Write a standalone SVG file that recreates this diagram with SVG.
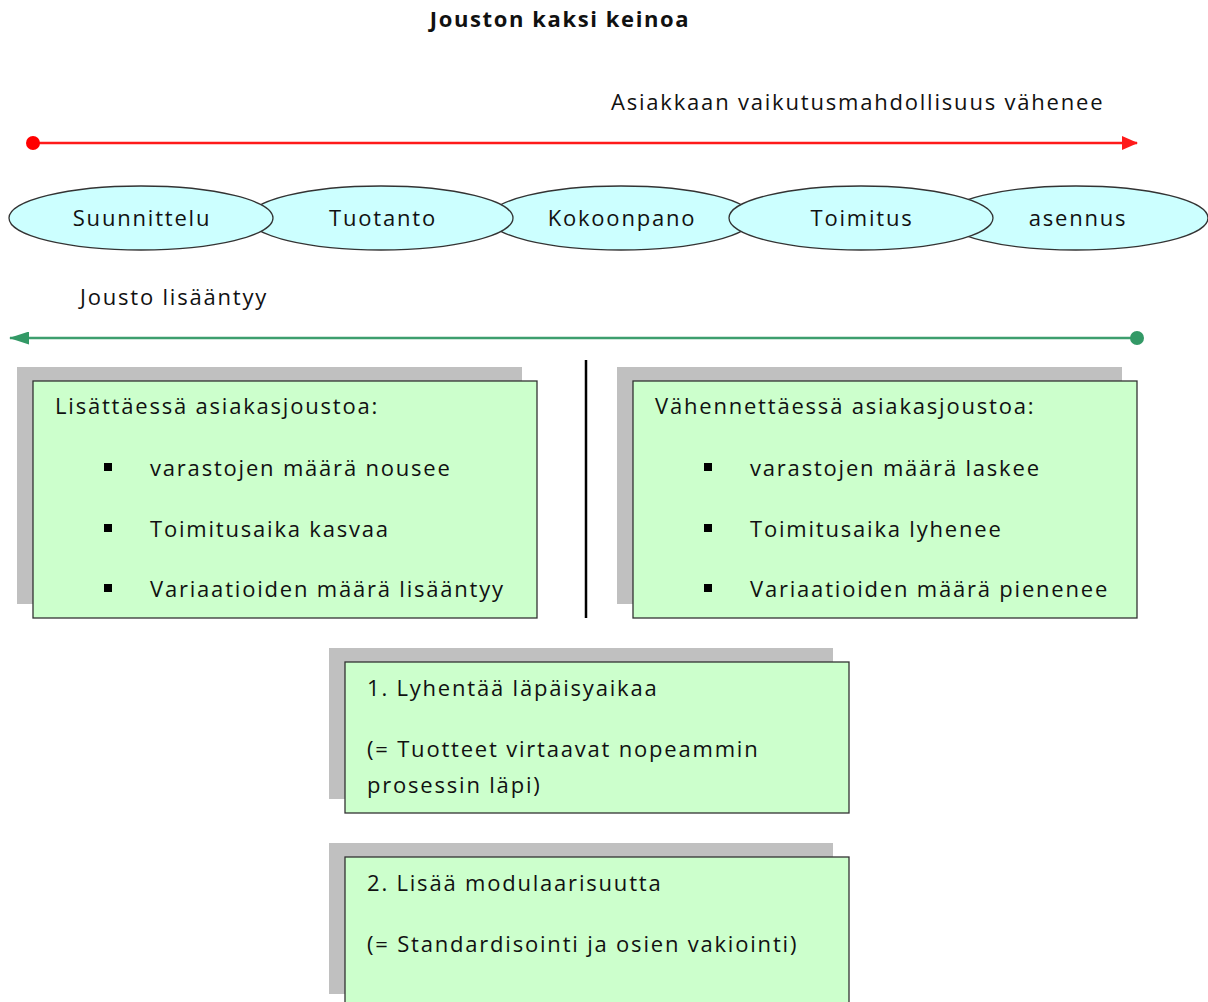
<svg xmlns="http://www.w3.org/2000/svg" width="1208" height="1002" viewBox="0 0 1208 1002">
<style>
text{font-family:"Open Sans","Noto Sans","Liberation Sans",sans-serif;font-size:22px;letter-spacing:1.8px;fill:#111}
.title{font-weight:bold;font-size:22px;letter-spacing:1.6px}
.ell{fill:#ccffff;stroke:#333;stroke-width:1.3}
.shadow{fill:#c0c0c0}
.box{fill:#ccffcc;stroke:#333;stroke-width:1.3}
.mid{text-anchor:middle}
.bul{fill:#000}
</style>
<defs>
<marker id="redHead" markerWidth="16" markerHeight="14" refX="15" refY="7" orient="auto" markerUnits="userSpaceOnUse" viewBox="0 0 16 14">
<path d="M0,0 L16,7 L0,14 z" fill="#ff1a1a"/>
</marker>
<marker id="greenHead" markerWidth="20" markerHeight="13" refX="19" refY="6.5" orient="auto" markerUnits="userSpaceOnUse" viewBox="0 0 20 13">
<path d="M0,0 L20,6.5 L0,13 z" fill="#339966"/>
</marker>
</defs>
<rect width="1208" height="1002" fill="#fff"/>
<text class="title mid" x="560" y="27">Jouston kaksi keinoa</text>
<text x="611" y="110">Asiakkaan vaikutusmahdollisuus vähenee</text>
<text x="80" y="305">Jousto lisääntyy</text>
<g id="connectors">
<line x1="33" y1="143" x2="1137" y2="143" stroke="#ff1a1a" stroke-width="2.5" marker-end="url(#redHead)"/>
<circle cx="33" cy="143" r="7" fill="#ff0000"/>
<line x1="1137" y1="338" x2="10" y2="338" stroke="#3d9e6e" stroke-width="2.5" marker-end="url(#greenHead)"/>
<circle cx="1137" cy="338" r="7" fill="#339966"/>
<line x1="586" y1="360" x2="586" y2="618" stroke="#000" stroke-width="2.5"/>
</g>
<g id="asennus"><ellipse class="ell" cx="1076" cy="218" rx="132" ry="32"/><text class="mid" x="1078" y="226">asennus</text></g>
<g id="kokoonpano"><ellipse class="ell" cx="621" cy="218" rx="132" ry="32"/><text class="mid" x="622" y="226">Kokoonpano</text></g>
<g id="tuotanto"><ellipse class="ell" cx="381" cy="218" rx="132" ry="32"/><text class="mid" x="383" y="226">Tuotanto</text></g>
<g id="toimitus"><ellipse class="ell" cx="861" cy="218" rx="132" ry="32"/><text class="mid" x="862" y="226">Toimitus</text></g>
<g id="suunnittelu"><ellipse class="ell" cx="141" cy="218" rx="132" ry="32"/><text class="mid" x="142" y="226">Suunnittelu</text></g>
<g id="lisattaessa">
<rect class="shadow" x="17" y="367" width="505" height="237"/>
<rect class="box" x="33" y="381" width="504" height="237"/>
<text x="55" y="414">Lisättäessä asiakasjoustoa:</text>
<rect class="bul" x="104" y="463" width="8" height="8"/><text x="150" y="476">varastojen määrä nousee</text>
<rect class="bul" x="104" y="524" width="8" height="8"/><text x="150" y="537">Toimitusaika kasvaa</text>
<rect class="bul" x="104" y="584" width="8" height="8"/><text x="150" y="597">Variaatioiden määrä lisääntyy</text>
</g>
<g id="vahennettaessa">
<rect class="shadow" x="617" y="367" width="505" height="237"/>
<rect class="box" x="633" y="381" width="504" height="237"/>
<text x="655" y="414">Vähennettäessä asiakasjoustoa:</text>
<rect class="bul" x="704" y="463" width="8" height="8"/><text x="750" y="476">varastojen määrä laskee</text>
<rect class="bul" x="704" y="524" width="8" height="8"/><text x="750" y="537">Toimitusaika lyhenee</text>
<rect class="bul" x="704" y="584" width="8" height="8"/><text x="750" y="597">Variaatioiden määrä pienenee</text>
</g>
<g id="keino1">
<rect class="shadow" x="329" y="648" width="504" height="151"/>
<rect class="box" x="345" y="662" width="504" height="151"/>
<text x="367" y="696">1. Lyhentää läpäisyaikaa</text>
<text x="367" y="757">(= Tuotteet virtaavat nopeammin</text>
<text x="367" y="793">prosessin läpi)</text>
</g>
<g id="keino2">
<rect class="shadow" x="329" y="843" width="504" height="151"/>
<rect class="box" x="345" y="857" width="504" height="160"/>
<text x="367" y="891">2. Lisää modulaarisuutta</text>
<text x="367" y="952">(= Standardisointi ja osien vakiointi)</text>
</g>
</svg>
